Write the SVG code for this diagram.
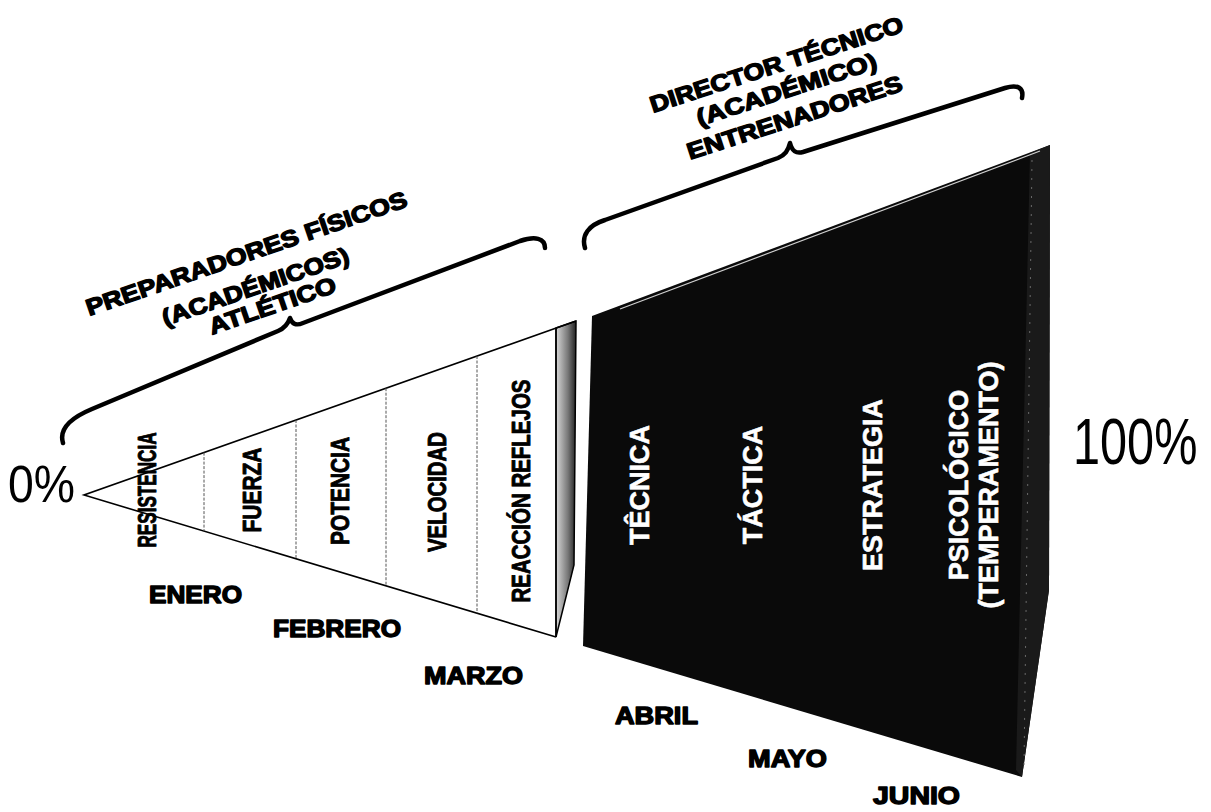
<svg xmlns="http://www.w3.org/2000/svg" width="1211" height="812" viewBox="0 0 1211 812">
<defs>
<style>
.lbl{font-family:"Liberation Sans",Arial,sans-serif;font-weight:bold;fill:#000;stroke:#000;stroke-width:1.4;stroke-linejoin:round;}
.vt{font-family:"Liberation Sans",Arial,sans-serif;font-weight:bold;font-size:26px;fill:#000;stroke:#000;stroke-width:0.9;stroke-linejoin:round;}
.wt{font-family:"Liberation Sans",Arial,sans-serif;font-weight:bold;font-size:27px;fill:#fff;stroke:#fff;stroke-width:0.6;stroke-linejoin:round;}
.pct{font-family:"Liberation Sans",Arial,sans-serif;font-weight:normal;fill:#000;}
.brace{fill:none;stroke:#000;stroke-width:4.5;stroke-linecap:round;stroke-linejoin:round;}
.div{stroke:#555;stroke-width:1;stroke-dasharray:3 1.5;}
</style>
<linearGradient id="sliver" x1="0" y1="0" x2="1" y2="0">
<stop offset="0" stop-color="#d8d8d8"/>
<stop offset="0.6" stop-color="#777"/>
<stop offset="1" stop-color="#222"/>
</linearGradient>
</defs>
<rect width="1211" height="812" fill="#fff"/>

<g id="connectors">
<path class="brace" d="M63,443 C59,430 68,419 92,409 L278,331 C285,328 288,324 290,318 C292,324 296,326 303,323 L520,241 C535,236 545,238 545,248"/>
<path class="brace" d="M585,248 C581,235 589,225 605,220 L778,158 C785,155 788,151 790,143 C792,151 796,154 803,152 L1005,88 C1018,84 1024,88 1022,98"/>
</g>

<g id="physical-wedge">
<polygon points="84,495 576,321 556,328 556,637" fill="#fff" stroke="none"/>
<polygon points="556,328 576,321 574,565 556,637" fill="url(#sliver)" stroke="#000" stroke-width="1.5"/>
<polyline points="576,321 84,495 556,637" fill="none" stroke="#000" stroke-width="1.6"/>
<line x1="556" y1="328" x2="556" y2="637" stroke="#000" stroke-width="1.5"/>
<line class="div" x1="204" y1="452.6" x2="204" y2="531.1"/>
<line class="div" x1="296" y1="420" x2="296" y2="558.8"/>
<line class="div" x1="386" y1="388.2" x2="386" y2="585.8"/>
<line class="div" x1="477" y1="356" x2="477" y2="613.2"/>
</g>

<g id="technical-block">
<polygon points="592,316 1050,145 1049,590 1022,777 583,646" fill="#0a0a0a"/>
<polygon points="1030,153 1050,145 1049,590 1022,777 1016,770" fill="#1a1a1a"/>
<line x1="1032" y1="160" x2="1024" y2="765" stroke="#6a6a6a" stroke-width="1" stroke-dasharray="2 7"/>
<line x1="620" y1="309" x2="1040" y2="151" stroke="#cfcfcf" stroke-width="1.2"/>
</g>

<g id="node-resistencia"><text class="vt" transform="translate(147,490) rotate(-90)" x="0" y="9" text-anchor="middle" textLength="115" lengthAdjust="spacingAndGlyphs">RESISTENCIA</text></g>
<g id="node-fuerza"><text class="vt" transform="translate(252,490) rotate(-90)" x="0" y="9" text-anchor="middle" textLength="85" lengthAdjust="spacingAndGlyphs">FUERZA</text></g>
<g id="node-potencia"><text class="vt" transform="translate(340,491) rotate(-90)" x="0" y="9" text-anchor="middle" textLength="108" lengthAdjust="spacingAndGlyphs">POTENCIA</text></g>
<g id="node-velocidad"><text class="vt" transform="translate(437,492) rotate(-90)" x="0" y="9" text-anchor="middle" textLength="120" lengthAdjust="spacingAndGlyphs">VELOCIDAD</text></g>
<g id="node-reaccion"><text class="vt" transform="translate(521,491) rotate(-90)" x="0" y="9" text-anchor="middle" textLength="223" lengthAdjust="spacingAndGlyphs">REACCIÓN REFLEJOS</text></g>

<g id="node-tecnica"><text class="wt" transform="translate(639,485) rotate(-90)" x="0" y="9.7" text-anchor="middle">TÊCNICA</text></g>
<g id="node-tactica"><text class="wt" transform="translate(752,485) rotate(-90)" x="0" y="9.7" text-anchor="middle">TÁCTICA</text></g>
<g id="node-estrategia"><text class="wt" transform="translate(872,485) rotate(-90)" x="0" y="9.7" text-anchor="middle">ESTRATEGIA</text></g>
<g id="node-psicologico">
<text class="wt" transform="translate(958,485) rotate(-90)" x="0" y="9.7" text-anchor="middle">PSICOLÓGICO</text>
<text class="wt" transform="translate(988,485) rotate(-90)" x="0" y="9.7" text-anchor="middle">(TEMPERAMENTO)</text>
</g>

<g id="node-months">
<text class="lbl" x="149" y="603" font-size="24" textLength="93" lengthAdjust="spacingAndGlyphs">ENERO</text>
<text class="lbl" x="273" y="637" font-size="24" textLength="128" lengthAdjust="spacingAndGlyphs">FEBRERO</text>
<text class="lbl" x="424" y="684" font-size="24" textLength="99" lengthAdjust="spacingAndGlyphs">MARZO</text>
<text class="lbl" x="615" y="724" font-size="24" textLength="83" lengthAdjust="spacingAndGlyphs">ABRIL</text>
<text class="lbl" x="748" y="767" font-size="24" textLength="79" lengthAdjust="spacingAndGlyphs">MAYO</text>
<text class="lbl" x="873" y="804" font-size="24" textLength="87" lengthAdjust="spacingAndGlyphs">JUNIO</text>
</g>

<g id="node-scale">
<text class="pct" x="8" y="502" font-size="51" textLength="67" lengthAdjust="spacingAndGlyphs">0%</text>
<text class="pct" transform="translate(1073,464) scale(0.76,1)" x="0" y="0" font-size="64">100%</text>
</g>

<g id="node-preparadores">
<text class="lbl" transform="translate(249,261) rotate(-19)" x="0" y="0" font-size="23" text-anchor="middle" textLength="338" lengthAdjust="spacingAndGlyphs">PREPARADORES FÍSICOS</text>
<text class="lbl" transform="translate(258,294) rotate(-19)" x="0" y="0" font-size="23" text-anchor="middle" textLength="196" lengthAdjust="spacingAndGlyphs">(ACADÉMICOS)</text>
<text class="lbl" transform="translate(275,313) rotate(-19)" x="0" y="0" font-size="23" text-anchor="middle" textLength="133" lengthAdjust="spacingAndGlyphs">ATLÉTICO</text>
</g>

<g id="node-director">
<text class="lbl" transform="translate(779,72) rotate(-18)" x="0" y="0" font-size="23" text-anchor="middle" textLength="265" lengthAdjust="spacingAndGlyphs">DIRECTOR TÉCNICO</text>
<text class="lbl" transform="translate(789,97) rotate(-18)" x="0" y="0" font-size="23" text-anchor="middle" textLength="188" lengthAdjust="spacingAndGlyphs">(ACADÉMICO)</text>
<text class="lbl" transform="translate(797,125) rotate(-18)" x="0" y="0" font-size="23" text-anchor="middle" textLength="225" lengthAdjust="spacingAndGlyphs">ENTRENADORES</text>
</g>
</svg>
